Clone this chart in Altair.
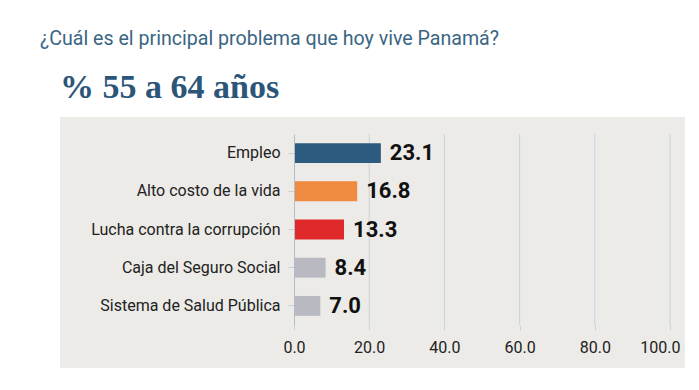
import altair as alt
import pandas as pd

title_text = "¿Cuál es el principal problema que hoy vive Panamá?"
subtitle_text = "% 55 a 64 años"
categories = ["Empleo", "Alto costo de la vida", "Lucha contra la corrupción",
              "Caja del Seguro Social", "Sistema de Salud Pública"]
values = [23.1, 16.8, 13.3, 8.4, 7.0]
colors = ["#2d5a7f", "#f08a40", "#e0292a", "#b9bac1", "#b9bac1"]
x_ticks = [0, 20, 40, 60, 80, 100]

df = pd.DataFrame({"cat": categories, "val": values, "col": colors})
grid_df = pd.DataFrame({"t": x_ticks[1:]})
title_df = pd.DataFrame({"t": [title_text]})
sub_df = pd.DataFrame({"t": [subtitle_text]})

W, H = 376, 191

panel = alt.Chart(df).mark_rect(color="#ecebe7").encode(
    x=alt.value(-234), x2=alt.value(391), y=alt.value(-17), y2=alt.value(234)
)

xscale = alt.Scale(domain=[0, 100], nice=False)

grid = alt.Chart(grid_df).mark_rule(color="#c9d3dd", strokeWidth=1).encode(
    x=alt.X("t:Q", scale=xscale), y=alt.value(0), y2=alt.value(H)
)

base = alt.Chart(df).encode(
    y=alt.Y("cat:N", sort=categories,
            scale=alt.Scale(paddingInner=0.48, paddingOuter=0.24),
            axis=alt.Axis(title=None, labelFont="Roboto", labelFontSize=16,
                          labelLimit=400,
                          labelColor="#222222", labelPadding=8, domainColor="#b4bcc6",
                          tickColor="#c9cfd6", tickSize=6, ticks=True, grid=False,
                          zindex=1)),
)

bars = base.mark_bar().encode(
    x=alt.X("val:Q", scale=xscale,
            axis=alt.Axis(values=x_ticks, format=".1f", title=None, grid=False,
                          domain=False, tickColor="#c9d3dd", labelFlush=False,
                          labelAlign={"condition": {"test": "datum.value == 100", "value": "right"},
                                      "value": "center"},
                          labelOffset={"condition": {"test": "datum.value == 100", "value": 10},
                                       "value": 0},
                          tickSize=5, labelFont="Roboto", labelFontSize=16,
                          labelColor="#222222", labelPadding=9, zindex=1)),
    color=alt.Color("col:N", scale=None),
)

labels = base.mark_text(align="left", dx=9, font="Roboto", fontSize=22,
                        fontWeight="bold", color="#111111").encode(
    x=alt.X("val:Q", scale=xscale),
    text=alt.Text("val:Q", format=".1f"),
)

title = alt.Chart(title_df).mark_text(
    align="left", baseline="alphabetic", font="Roboto", fontSize=19.6,
    color="#3a6583").encode(x=alt.value(-254), y=alt.value(-89), text="t:N")

subtitle = alt.Chart(sub_df).mark_text(
    align="left", baseline="alphabetic", font="Liberation Serif", fontSize=34,
    fontWeight="bold", color="#2b5679").encode(x=alt.value(-234), y=alt.value(-36), text="t:N")

chart = alt.layer(panel, grid, bars, labels, title, subtitle).properties(
    width=W, height=H,
).configure(
    autosize=alt.AutoSizeParams(type="none"),
    padding={"left": 286, "top": 126, "right": 21, "bottom": 49},
    background="white",
).configure_view(stroke=None)

chart.save("out.html", embed_options={"renderer": "svg", "actions": False})
